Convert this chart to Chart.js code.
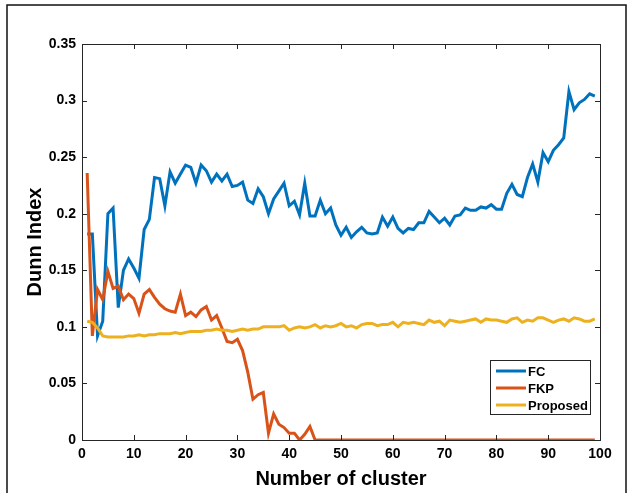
<!DOCTYPE html>
<html>
<head>
<meta charset="utf-8">
<script src="https://cdn.jsdelivr.net/npm/chart.js"></script>
<style>
  html, body { margin: 0; padding: 0; background: #fff; }
  #wrap { width: 629px; height: 493px; }
</style>
</head>
<body>
<div id="wrap"><canvas id="myChart" width="629" height="493"></canvas></div>
<script>
const clusters = [1,2,3,4,5,6,7,8,9,10,11,12,13,14,15,16,17,18,19,20,
  21,22,23,24,25,26,27,28,29,30,31,32,33,34,35,36,37,38,39,40,
  41,42,43,44,45,46,47,48,49,50,51,52,53,54,55,56,57,58,59,60,
  61,62,63,64,65,66,67,68,69,70,71,72,73,74,75,76,77,78,79,80,
  81,82,83,84,85,86,87,88,89,90,91,92,93,94,95,96,97,98,99];

const fcVals = [0.182,0.182,0.092,0.105,0.200,0.205,0.117,0.150,0.160,0.152,
  0.143,0.186,0.195,0.232,0.231,0.207,0.237,0.227,0.235,0.243,
  0.241,0.227,0.243,0.238,0.228,0.235,0.229,0.235,0.224,0.225,
  0.228,0.212,0.209,0.222,0.215,0.200,0.213,0.220,0.227,0.207,
  0.211,0.199,0.227,0.198,0.198,0.212,0.200,0.205,0.190,0.181,
  0.188,0.179,0.184,0.188,0.183,0.182,0.183,0.197,0.189,0.197,
  0.187,0.183,0.187,0.186,0.192,0.192,0.202,0.197,0.192,0.196,
  0.190,0.198,0.199,0.205,0.203,0.203,0.206,0.205,0.208,0.204,
  0.204,0.218,0.226,0.217,0.215,0.232,0.244,0.228,0.254,0.246,
  0.256,0.261,0.267,0.308,0.292,0.298,0.301,0.306,0.304];

const fkpVals = [0.236,0.092,0.133,0.124,0.149,0.134,0.136,0.124,0.129,0.125,
  0.112,0.129,0.133,0.126,0.120,0.116,0.114,0.113,0.129,0.110,
  0.113,0.109,0.115,0.118,0.106,0.110,0.099,0.087,0.086,0.089,
  0.079,0.060,0.036,0.040,0.042,0.006,0.023,0.014,0.011,0.006,
  0.006,0.000,0.005,0.012,0,0,0,0,0,0,
  0,0,0,0,0,0,0,0,0,0,
  0,0,0,0,0,0,0,0,0,0,
  0,0,0,0,0,0,0,0,0,0,
  0,0,0,0,0,0,0,0,0,0,
  0,0,0,0,0,0,0,0,0];

const proposedVals = [0.105,0.104,0.099,0.092,0.091,0.091,0.091,0.091,0.092,0.092,
  0.093,0.092,0.093,0.093,0.094,0.094,0.094,0.095,0.094,0.095,
  0.096,0.096,0.096,0.097,0.097,0.098,0.097,0.097,0.096,0.097,
  0.098,0.097,0.098,0.098,0.100,0.100,0.100,0.100,0.101,0.097,
  0.099,0.100,0.099,0.100,0.102,0.099,0.101,0.100,0.101,0.103,
  0.100,0.101,0.099,0.102,0.103,0.103,0.101,0.102,0.102,0.104,
  0.100,0.104,0.103,0.104,0.103,0.102,0.106,0.104,0.105,0.101,
  0.106,0.105,0.104,0.105,0.106,0.107,0.104,0.107,0.106,0.106,
  0.105,0.104,0.107,0.108,0.104,0.106,0.105,0.108,0.108,0.106,
  0.104,0.106,0.107,0.105,0.108,0.107,0.105,0.105,0.107];

const seriesNames = ['FC', 'FKP', 'Proposed'];
const seriesColors = ['#0072BD', '#D95319', '#EDB120'];
const xTicks = [0,10,20,30,40,50,60,70,80,90,100];
const yTicks = [0,0.05,0.1,0.15,0.2,0.25,0.3,0.35];

const ctx = document.getElementById('myChart');
const fontFam = '"Liberation Sans", Arial, Helvetica, sans-serif';

function toPoints(vals) {
  return vals.map((v, i) => ({ x: clusters[i], y: v }));
}

// box, inward ticks, legend and outer frame
const matlabBox = {
  id: 'matlabBox',
  afterDatasetsDraw(chart) {
    const c = chart.ctx;
    const a = chart.chartArea;
    const xs = chart.scales.x, ys = chart.scales.y;
    c.save();
    c.strokeStyle = '#262626';
    c.lineWidth = 1;
    c.strokeRect(Math.round(a.left) + 0.5, Math.round(a.top) + 0.5,
      Math.round(a.right - a.left), Math.round(a.bottom - a.top));
    const tl = 5;
    c.beginPath();
    xTicks.forEach(t => {
      const px = Math.round(xs.getPixelForValue(t)) + 0.5;
      c.moveTo(px, a.bottom); c.lineTo(px, a.bottom - tl);
      c.moveTo(px, a.top); c.lineTo(px, a.top + tl);
    });
    yTicks.forEach(t => {
      const py = Math.round(ys.getPixelForValue(t)) + 0.5;
      c.moveTo(a.left, py); c.lineTo(a.left + tl, py);
      c.moveTo(a.right, py); c.lineTo(a.right - tl, py);
    });
    c.stroke();

    // legend
    const lx = 490, ly = 360, lw = 100, lh = 54;
    c.fillStyle = '#fff';
    c.fillRect(lx, ly, lw, lh);
    c.strokeStyle = '#262626';
    c.strokeRect(lx + 0.5, ly + 0.5, lw, lh);
    c.font = 'bold 13px ' + fontFam;
    c.textBaseline = 'middle';
    seriesNames.forEach((name, i) => {
      const y = ly + 11 + i * 17;
      c.strokeStyle = seriesColors[i];
      c.lineWidth = 3;
      c.beginPath(); c.moveTo(lx + 6, y); c.lineTo(lx + 36, y); c.stroke();
      c.fillStyle = '#000';
      c.fillText(name, lx + 38, y + 1);
    });

    // outer frame
    c.strokeStyle = '#111';
    c.lineWidth = 1.5;
    c.strokeRect(7, 5, 619, 500);
    c.restore();
  }
};

new Chart(ctx, {
  type: 'line',
  data: {
    datasets: [
      { label: seriesNames[0], data: toPoints(fcVals), borderColor: seriesColors[0], order: 3 },
      { label: seriesNames[1], data: toPoints(fkpVals), borderColor: seriesColors[1], order: 2 },
      { label: seriesNames[2], data: toPoints(proposedVals), borderColor: seriesColors[2], order: 1 }
    ]
  },
  options: {
    responsive: false,
    animation: false,
    layout: { padding: { top: 44, right: 29, bottom: 0, left: 0 } },
    elements: {
      line: { borderWidth: 3, tension: 0, fill: false },
      point: { radius: 0 }
    },
    plugins: { legend: { display: false }, tooltip: { enabled: false } },
    scales: {
      x: {
        type: 'linear', min: 0, max: 100,
        afterBuildTicks(s) { s.ticks = xTicks.map(v => ({ value: v })); },
        afterFit(s) { s.height = 53; },
        grid: { display: false, drawTicks: false },
        border: { display: false },
        ticks: { padding: 6, color: '#000', font: { family: fontFam, size: 14, weight: 'bold' }, maxRotation: 0 },
        title: { display: true, text: 'Number of cluster', color: '#000',
          font: { family: fontFam, size: 20, weight: 'bold' }, padding: { top: 0, bottom: 2 } }
      },
      y: {
        min: 0, max: 0.35,
        afterBuildTicks(s) { s.ticks = yTicks.map(v => ({ value: v })); },
        afterFit(s) { s.width = 82; },
        grid: { display: false, drawTicks: false },
        border: { display: false },
        ticks: { padding: 6, color: '#000', font: { family: fontFam, size: 14, weight: 'bold' },
          callback: v => String(parseFloat(v.toFixed(2))) },
        title: { display: true, text: 'Dunn Index', color: '#000',
          font: { family: fontFam, size: 20, weight: 'bold' }, padding: { top: 23, bottom: 0 } }
      }
    }
  },
  plugins: [matlabBox]
});
</script>
</body>
</html>
